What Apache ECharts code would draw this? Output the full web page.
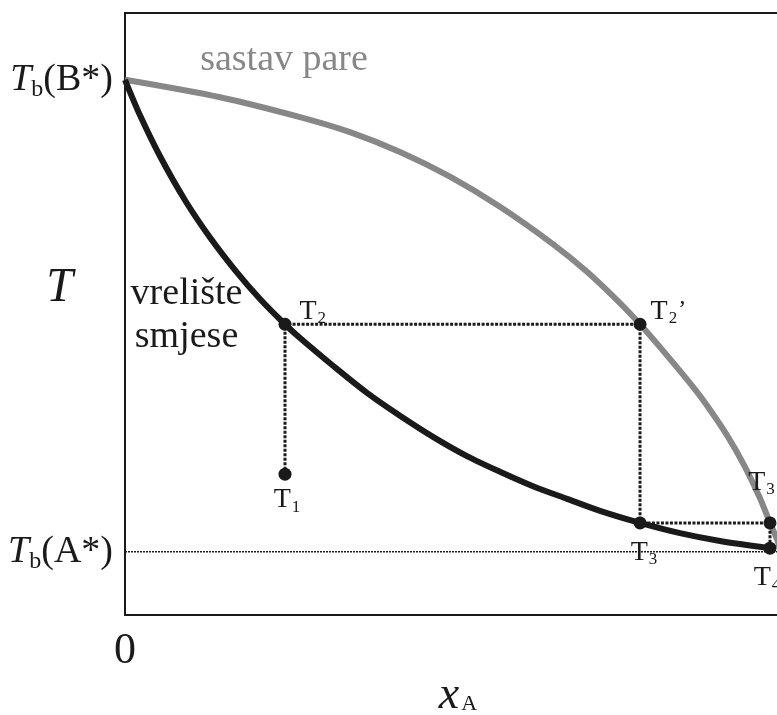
<!DOCTYPE html>
<html>
<head>
<meta charset="utf-8">
<title>Vrelište smjese</title>
<script src="https://cdn.jsdelivr.net/npm/echarts@6/dist/echarts.min.js"></script>
<style>
  html, body { margin: 0; padding: 0; background: #fff; }
  #chart { width: 777px; height: 715px; }
</style>
</head>
<body>
<div id="chart"></div>
<script>
// boiling temperatures of the pure components (relative T scale 0..100)
var tbB = 88.9;
var tbA = 10.5;

// liquid curve: vrelište smjese
var liquidX = [0, 0.0229, 0.0534, 0.0915, 0.1296, 0.1677, 0.2058, 0.2439, 0.2668, 0.3171, 0.3689,
  0.4192, 0.4695, 0.5213, 0.5716, 0.6220, 0.6738, 0.7241, 0.7851, 0.8460, 0.9070, 0.9832];
var liquidT = [88.9, 83.0, 76.2, 68.9, 62.7, 57.3, 52.5, 48.3, 46.0, 41.4, 36.9,
  33.1, 29.6, 26.4, 23.8, 21.4, 19.3, 17.3, 15.3, 13.6, 12.3, 11.1];

// vapour curve: sastav pare
var vapourX = [0, 0.1448, 0.2668, 0.3430, 0.4192, 0.4954, 0.5716, 0.6524, 0.7043, 0.7546,
  0.7851, 0.8155, 0.8659, 0.8872, 0.9192, 0.9451, 0.9680, 0.9832, 0.9939, 1.0];
var vapourT = [88.9, 86.0, 82.7, 80.2, 76.9, 72.8, 67.8, 61.6, 57.0, 51.8,
  48.3, 44.5, 37.9, 34.8, 29.6, 24.6, 19.4, 15.3, 12.6, 10.5];

// marked states, in the order the dotted path visits them
var pointNames = ['T1', 'T2', "T2'", 'T3', "T3'", 'T4'];
var pointX = [0.2439, 0.2439, 0.7851, 0.7851, 0.9832, 0.9832];
var pointT = [23.4, 48.3, 48.3, 15.3, 15.3, 11.1];

// tick labels
var xTickValues = [0];
var xTickLabels = ['0'];
var yTickValues = [tbB, tbA];
var yTickLabels = ['B*', 'A*'];

var SERIF = 'Liberation Serif';
var INK = '#1a1a1a';
var GREY = '#878787';

function zip(xs, ys) {
  return xs.map(function (x, i) { return [x, ys[i]]; });
}

// label placement per point (style only)
var labelPlace = {
  'T1': { position: 'bottom', distance: 5, offset: [2, 0] },
  'T2': { position: 'right', distance: 8, offset: [0, -13] },
  "T2'": { position: 'right', distance: 4, offset: [0, -13] },
  'T3': { position: 'bottom', distance: 9, offset: [4, 0] },
  "T3'": { position: 'top', distance: 20, offset: [-4, 0] },
  'T4': { position: 'bottom', distance: 9, offset: [-3, 0] }
};

function pointLabel(name) {
  var sub = name.charAt(1);
  var prime = name.length > 2 ? '{p|’}' : '';
  return '{m|T}{s|' + sub + '}' + prime;
}

var pointRich = {
  m: { fontFamily: SERIF, fontSize: 28, lineHeight: 28, color: INK, verticalAlign: 'top' },
  s: { fontFamily: SERIF, fontSize: 17, lineHeight: 17, color: INK, padding: [15, 0, 0, 1] },
  p: { fontFamily: SERIF, fontSize: 24, lineHeight: 24, color: INK, verticalAlign: 'top', padding: [0, 0, 0, 1] }
};

function annotation(coord, text, color, extra) {
  var label = {
    show: true,
    position: 'inside',
    formatter: text,
    fontFamily: SERIF,
    fontSize: 38,
    color: color
  };
  for (var k in extra) label[k] = extra[k];
  return {
    symbol: 'circle',
    symbolSize: 1,
    itemStyle: { color: 'rgba(0,0,0,0)' },
    silent: true,
    data: [{ coord: coord, label: label }]
  };
}

var chart = echarts.init(document.getElementById('chart'), null, { renderer: 'canvas' });

chart.setOption({
  backgroundColor: '#fff',
  animation: false,
  grid: {
    left: 125,
    top: 13,
    width: 656,
    height: 602,
    outerBoundsMode: 'none',
    containLabel: false,
    show: true,
    borderColor: INK,
    borderWidth: 2,
    backgroundColor: 'transparent'
  },
  xAxis: {
    type: 'value',
    min: 0,
    max: 1,
    axisLine: { show: false },
    axisTick: { show: false },
    splitLine: { show: false },
    axisLabel: {
      customValues: xTickValues,
      formatter: function (v) {
        var i = xTickValues.indexOf(v);
        return i >= 0 ? xTickLabels[i] : '';
      },
      fontFamily: SERIF,
      fontSize: 44,
      color: INK,
      margin: 14
    },
    name: '{x|x}{s|A}',
    nameLocation: 'middle',
    nameGap: 58,
    nameMoveOverlap: false,
    nameTextStyle: {
      padding: [0, 0, 0, 10],
      rich: {
        x: { fontFamily: SERIF, fontStyle: 'italic', fontSize: 46, lineHeight: 40, color: INK, verticalAlign: 'top' },
        s: { fontFamily: SERIF, fontSize: 22, lineHeight: 22, color: INK, padding: [22, 0, 0, 2] }
      }
    }
  },
  yAxis: {
    type: 'value',
    min: 0,
    max: 100,
    axisLine: { show: false },
    axisTick: { show: false },
    splitLine: { show: false },
    axisLabel: {
      customValues: yTickValues,
      formatter: function (v) {
        var i = yTickValues.indexOf(v);
        return i >= 0 ? '{t|T}{b|b}{r|(' + yTickLabels[i] + ')}' : '';
      },
      margin: 12,
      rich: {
        t: { fontFamily: SERIF, fontStyle: 'italic', fontSize: 38, lineHeight: 38, color: INK, verticalAlign: 'top' },
        b: { fontFamily: SERIF, fontSize: 24, lineHeight: 24, color: INK, padding: [20, 0, 0, 0] },
        r: { fontFamily: SERIF, fontSize: 38, lineHeight: 38, color: INK, verticalAlign: 'top' }
      }
    },
    name: 'T',
    nameLocation: 'middle',
    nameRotate: 0,
    nameGap: 52,
    nameMoveOverlap: false,
    nameTextStyle: {
      fontFamily: SERIF,
      fontStyle: 'italic',
      fontSize: 48,
      lineHeight: 52,
      verticalAlign: 'bottom',
      color: INK
    }
  },
  series: [
    {
      name: 'Tb(A*)',
      type: 'line',
      data: [[0, tbA], [1, tbA]],
      symbol: 'none',
      silent: true,
      lineStyle: { color: INK, width: 1.6, type: [2, 1] },
      z: 1
    },
    {
      name: 'sastav pare',
      type: 'line',
      data: zip(vapourX, vapourT),
      smooth: 0.3,
      symbol: 'none',
      lineStyle: { color: GREY, width: 6 },
      markPoint: annotation([0.2424, 92.2], 'sastav pare', GREY, {}),
      z: 2
    },
    {
      name: 'vrelište smjese',
      type: 'line',
      data: zip(liquidX, liquidT),
      smooth: 0.3,
      symbol: 'none',
      lineStyle: { color: INK, width: 6 },
      markPoint: annotation([0.0938, 49.8], 'vrelište\nsmjese', INK, { lineHeight: 43, align: 'center' }),
      z: 3
    },
    {
      name: 'path',
      type: 'line',
      data: zip(pointX, pointT),
      symbol: 'none',
      silent: true,
      lineStyle: { color: INK, width: 3, type: [3, 1.5] },
      z: 4
    },
    {
      name: 'states',
      type: 'scatter',
      symbol: 'circle',
      symbolSize: 13,
      itemStyle: { color: INK, opacity: 1 },
      data: pointNames.map(function (n, i) {
        var p = labelPlace[n];
        return {
          name: n,
          value: [pointX[i], pointT[i]],
          label: {
            show: true,
            position: p.position,
            distance: p.distance,
            offset: p.offset,
            formatter: pointLabel(n),
            rich: pointRich
          }
        };
      }),
      z: 5
    }
  ]
});
</script>
</body>
</html>
